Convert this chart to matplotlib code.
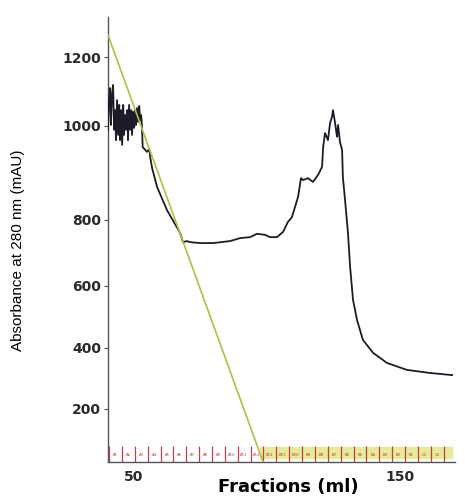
import numpy as np
import matplotlib
matplotlib.use("Agg")
import matplotlib.pyplot as plt

# elution volume (ml) and A280 (mAU)
volume_ml = [40.6, 41.0, 41.4, 41.7, 42.1, 42.5, 42.9, 43.3, 43.6, 44.0,
             44.4, 44.8, 45.1, 45.5, 45.9, 46.3, 46.6, 47.0, 47.4, 47.8,
             48.1, 48.5, 48.9, 49.3, 49.6, 50.0, 50.4, 50.8, 51.1, 51.5,
             51.9, 52.3, 52.6, 53.0, 53.3, 53.6, 55.2, 56.1, 56.4, 57.1,
             59.0, 62.7, 67.6, 68.7, 70.2, 71.3, 75.1, 80.0, 86.3, 90.1,
             93.8, 96.4, 99.4, 101.3, 103.9, 106.2, 108.0, 109.5, 111.8, 112.9,
             113.7, 115.5, 117.4, 119.3, 120.8, 121.2, 121.9, 123.0, 123.8, 124.5,
             124.9, 125.6, 126.4, 126.8, 127.5, 128.3, 128.6, 129.4, 130.5, 131.3,
             132.4, 133.9, 136.1, 139.9, 145.1, 152.6, 161.2, 169.5]
a280_mau = [992, 1075, 1110, 1003, 1090, 1119, 992, 1046, 970, 1075,
            981, 1061, 970, 1046, 960, 1061, 981, 1032, 992, 1046,
            970, 1061, 992, 1046, 981, 1041, 996, 1046, 1003, 1052,
            1012, 1058, 1017, 1032, 1003, 955, 945, 950, 934, 911,
            870, 821, 761, 733, 736, 733, 730, 730, 736, 745,
            748, 758, 755, 748, 748, 764, 794, 806, 849, 889,
            885, 889, 881, 896, 913, 955, 985, 970, 1009, 1026,
            1046, 1012, 977, 1003, 966, 949, 891, 843, 761, 658,
            555, 490, 426, 384, 351, 328, 318, 311]

# gradient line (% of full scale)
gradient_ml = [40.6, 98.7]
gradient_pct = [100, 0]

# fraction collector marks
fraction_edges = [41.0, 45.8, 50.6, 55.5, 60.3, 65.1, 69.9, 74.7, 79.6, 84.4,
                  89.2, 94.0, 98.8, 103.7, 108.5, 113.3, 118.1, 122.9, 127.8, 132.6,
                  137.4, 142.2, 147.0, 151.9, 156.7, 161.5, 166.3]
fraction_labels = [f"A{i}" for i in range(1, 13)] + [f"B{i}" for i in range(12, 0, -1)] + ["C1", "C2"]
pooled = (97.6, 169.5)

ytick_vals = [200, 400, 600, 800, 1000, 1200]
xtick_vals = [50, 150]

# the printed y axis is not evenly spaced; map it piecewise
scale_vals = np.array([-2000, 0, 200, 400, 600, 800, 1000, 1200, 1400, 4000], float)
scale_pix = np.array([1080, 470, 409, 348, 286, 220, 126, 57, -12, -909], float)

def fwd(v):
    return -np.interp(v, scale_vals, scale_pix)

def inv(p):
    return np.interp(p, -scale_pix, scale_vals)

fig = plt.figure(figsize=(4.69, 4.97), dpi=100)
ax = fig.add_axes([108 / 469, 1 - 462 / 497, 347 / 469, 445 / 497])
ax.set_yscale("function", functions=(fwd, inv))

ax.plot(volume_ml, a280_mau, color="#1c1c28", lw=1.3, zorder=3)
ax.set_xlim(40.6, 170.6)
ax.set_ylim(26, 1316)

# fractions along the bottom
tr = ax.get_xaxis_transform()
ax.axvspan(*pooled, ymin=0.009, ymax=0.033, color="#e6ea9a", zorder=1)
ax.vlines(fraction_edges, 0, 0.036, transform=tr, color="#c04050", lw=0.9, zorder=2)
for lo, hi, lab in zip(fraction_edges[:-1], fraction_edges[1:], fraction_labels):
    ax.text((lo + hi) / 2, 0.016, lab, transform=tr, ha="center", va="center",
            fontsize=2.8, color="#d03040")

ax2 = ax.twinx()
ax2.plot(gradient_ml, gradient_pct, color="#a9c443", lw=1.2)
ax2.set_ylim(0, 100 * 445 / 427)
ax2.set_xlim(40.6, 170.6)
ax2.axis("off")

for s in ["top", "right"]:
    ax.spines[s].set_visible(False)
for s in ["left", "bottom"]:
    ax.spines[s].set_color("#555555")
    ax.spines[s].set_linewidth(1.0)

ax.set_yticks(ytick_vals)
ax.set_xticks(xtick_vals)
ax.minorticks_off()
ax.tick_params(axis="y", length=3, width=0.8, color="#555555", pad=2, labelsize=10)
ax.tick_params(axis="x", length=0, pad=6, labelsize=10)
for lab in ax.get_xticklabels() + ax.get_yticklabels():
    lab.set_fontweight("bold")
    lab.set_color("#2a2a2a")

ax.set_xlabel("Fractions (ml)", fontsize=13, fontweight="bold", va="center")
ax.xaxis.set_label_coords(0.52, -0.057)
ax.set_ylabel("Absorbance at 280 nm (mAU)", fontsize=11, va="center",
              family=["Liberation Sans Narrow", "Liberation Sans", "DejaVu Sans"])
ax.yaxis.set_label_coords(-0.26, 0.476)

fig.savefig("out.png", dpi=100)
